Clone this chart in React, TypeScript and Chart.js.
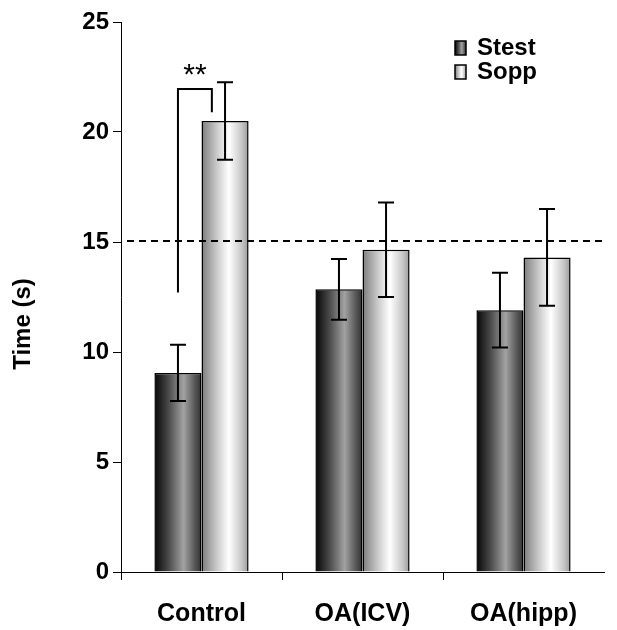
import React, { useEffect, useRef } from "react";
import { Chart, registerables } from "chart.js";

Chart.register(...registerables);

// Groups and series
const categories = ["Control", "OA(ICV)", "OA(hipp)"];
const seriesNames = ["Stest", "Sopp"];

// Mean time (s) and error (± SEM) per group
const stestMeans = [9.05, 12.85, 11.9];
const stestErrors = [1.28, 1.38, 1.7];
const soppMeans = [20.5, 14.65, 14.3];
const soppErrors = [1.76, 2.15, 2.2];

// Y axis ticks and the chance-level reference line
const yTicks = [0, 5, 10, 15, 20, 25];
const chanceLevel = 15.05;

// Significance bracket over the Control group
const sigLabel = "**";
const sigLeftBottom = 12.7;
const sigTop = 21.95;
const sigRightBottom = 20.9;

const CAT_PCT = 0.585;
const FONT = "'Liberation Sans', Arial, sans-serif";

type Stop = [number, string];
const darkStops: Stop[] = [
  [0, "#050505"],
  [0.3, "#4a4a4a"],
  [0.62, "#a2a2a2"],
  [0.85, "#5a5a5a"],
  [1, "#303030"],
];
const lightStops: Stop[] = [
  [0, "#7c7c7c"],
  [0.3, "#c4c4c4"],
  [0.58, "#ffffff"],
  [0.85, "#c8c8c8"],
  [1, "#9a9a9a"],
];

function makeGradient(c: CanvasRenderingContext2D, left: number, width: number, stops: Stop[]) {
  const g = c.createLinearGradient(left, 0, left + width, 0);
  stops.forEach(([o, col]) => g.addColorStop(o, col));
  return g;
}

function barFill(stops: Stop[]) {
  return (ctx: any) => {
    const chart = ctx.chart;
    const xs = chart.scales?.x;
    if (!chart.chartArea || !xs || ctx.type !== "data") return stops[2][1];
    const center = xs.getPixelForValue(ctx.dataIndex);
    const catW = xs.width / categories.length;
    const w = (catW * CAT_PCT) / 2;
    const left = ctx.datasetIndex === 0 ? center - w : center;
    return makeGradient(chart.ctx, left, w, stops);
  };
}

const overlayPlugin = {
  id: "overlay",
  afterDatasetsDraw(chart: any) {
    const c: CanvasRenderingContext2D = chart.ctx;
    const ys = chart.scales.y;
    const area = chart.chartArea;
    const errs = [stestErrors, soppErrors];
    const means = [stestMeans, soppMeans];

    c.save();
    c.strokeStyle = "#000";
    c.lineWidth = 2;

    // error bars
    for (let d = 0; d < 2; d++) {
      const meta = chart.getDatasetMeta(d);
      meta.data.forEach((el: any, i: number) => {
        const x = el.x;
        const top = ys.getPixelForValue(means[d][i] + errs[d][i]);
        const bot = ys.getPixelForValue(means[d][i] - errs[d][i]);
        c.beginPath();
        c.moveTo(x, top);
        c.lineTo(x, bot);
        c.moveTo(x - 8, top);
        c.lineTo(x + 8, top);
        c.moveTo(x - 8, bot);
        c.lineTo(x + 8, bot);
        c.stroke();
      });
    }

    // chance-level dashed line
    const yc = ys.getPixelForValue(chanceLevel);
    c.setLineDash([7, 5]);
    c.beginPath();
    c.moveTo(area.left + 6, yc);
    c.lineTo(area.right, yc);
    c.stroke();
    c.setLineDash([]);

    // significance bracket
    const s0 = chart.getDatasetMeta(0).data[0];
    const s1 = chart.getDatasetMeta(1).data[0];
    const xl = s0.x;
    const xr = s1.x - s1.width * 0.28;
    c.beginPath();
    c.moveTo(xl, ys.getPixelForValue(sigLeftBottom));
    c.lineTo(xl, ys.getPixelForValue(sigTop));
    c.lineTo(xr, ys.getPixelForValue(sigTop));
    c.lineTo(xr, ys.getPixelForValue(sigRightBottom));
    c.stroke();
    c.fillStyle = "#000";
    c.font = `30px ${FONT}`;
    c.textAlign = "center";
    c.textBaseline = "alphabetic";
    c.fillText(sigLabel, (xl + xr) / 2, ys.getPixelForValue(sigTop) - 5);

    // legend
    const allStops = [darkStops, lightStops];
    c.font = `bold 24px ${FONT}`;
    c.textAlign = "left";
    c.textBaseline = "middle";
    seriesNames.forEach((name, k) => {
      const bx = 455;
      const by = 41 + k * 24;
      c.fillStyle = makeGradient(c, bx, 11, allStops[k]);
      c.fillRect(bx, by, 11, 14);
      c.lineWidth = 1.5;
      c.strokeRect(bx, by, 11, 14);
      c.fillStyle = "#000";
      c.fillText(name, 477, by + 7);
    });

    // y axis title
    c.translate(23, 324);
    c.rotate(-Math.PI / 2);
    c.textAlign = "center";
    c.textBaseline = "middle";
    c.font = `bold 24px ${FONT}`;
    c.fillText("Time (s)", 0, 0);
    c.restore();
  },
};

export default function App() {
  const ref = useRef<HTMLCanvasElement | null>(null);

  useEffect(() => {
    document.body.style.margin = "0";
    if (!ref.current) return;
    const chart = new Chart(ref.current, {
      type: "bar",
      data: {
        labels: categories,
        datasets: [
          {
            label: seriesNames[0],
            data: stestMeans,
            backgroundColor: barFill(darkStops),
            borderColor: "#000",
            borderWidth: 1.5,
            categoryPercentage: CAT_PCT,
            barPercentage: 1,
          },
          {
            label: seriesNames[1],
            data: soppMeans,
            backgroundColor: barFill(lightStops),
            borderColor: "#000",
            borderWidth: 1.5,
            categoryPercentage: CAT_PCT,
            barPercentage: 1,
          },
        ],
      },
      options: {
        responsive: false,
        animation: false,
        devicePixelRatio: 1,
        layout: { padding: { top: 22, right: 13, left: 0, bottom: 0 } },
        plugins: {
          legend: { display: false },
          tooltip: { enabled: false },
        },
        scales: {
          x: {
            grid: {
              offset: true,
              drawOnChartArea: false,
              tickLength: 8,
              color: (c: any) => (c.type === "tick" ? "#000" : "rgba(0,0,0,0)"),
            },
            border: { color: "#000", width: 1 },
            ticks: {
              color: "#000",
              padding: 19,
              font: { family: FONT, size: 25, weight: "bold" },
            },
            afterFit: (s: any) => {
              s.height = 58;
            },
          },
          y: {
            min: 0,
            max: 25,
            afterBuildTicks: (s: any) => {
              s.ticks = yTicks.map((v) => ({ value: v }));
            },
            grid: { drawOnChartArea: false, tickLength: 8, color: "#000" },
            border: { color: "#000", width: 1 },
            ticks: {
              color: "#000",
              padding: 4,
              font: { family: FONT, size: 24, weight: "bold" },
            },
            afterFit: (s: any) => {
              s.width = 121;
            },
          },
        },
      },
      plugins: [overlayPlugin],
    });
    return () => chart.destroy();
  }, []);

  return <canvas ref={ref} width={617} height={630} />;
}
